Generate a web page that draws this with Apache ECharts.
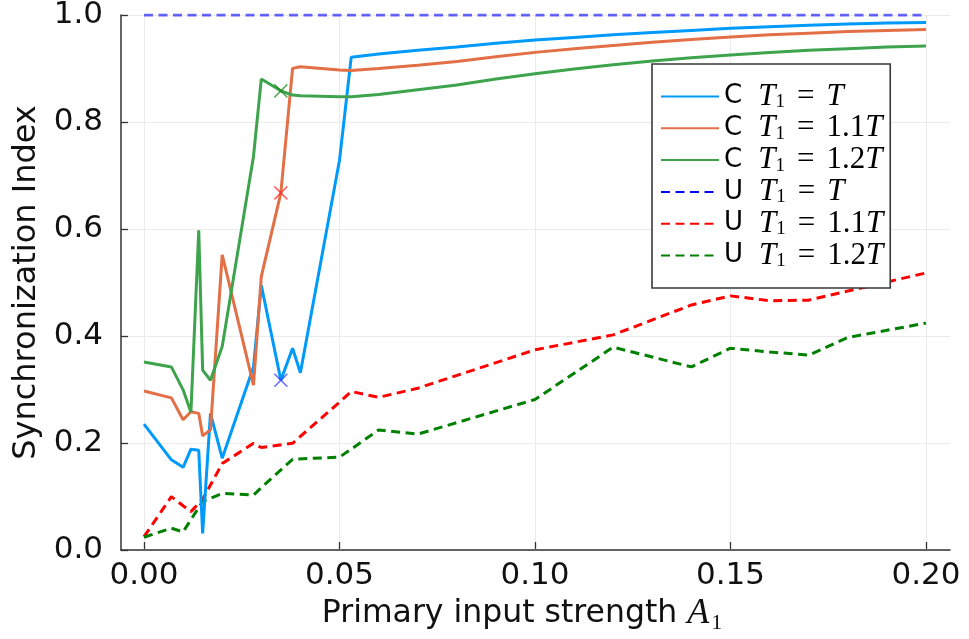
<!DOCTYPE html>
<html>
<head>
<meta charset="utf-8">
<script src="https://cdn.jsdelivr.net/npm/echarts@6/dist/echarts.min.js"></script>
<style>
  html, body { margin: 0; padding: 0; background: #fff; }
  #chart { width: 969px; height: 639px; }
</style>
</head>
<body>
<div id="chart"></div>
<script>
// Primary input strengths A1 of the coupled (C) runs
const xCoupled = [0, 0.007, 0.010, 0.012, 0.014, 0.015, 0.017, 0.020, 0.028, 0.030,
                  0.035, 0.038, 0.040, 0.050, 0.053, 0.06, 0.07, 0.08, 0.09, 0.10,
                  0.11, 0.12, 0.13, 0.14, 0.15, 0.16, 0.17, 0.18, 0.19, 0.20];
// Synchronization index, coupled, T1 = T / 1.1T / 1.2T
const cT10 = [0.234, 0.167, 0.153, 0.187, 0.185, 0.029, 0.254, 0.170, 0.341, 0.494,
              0.316, 0.376, 0.330, 0.728, 0.921, 0.927, 0.934, 0.940, 0.947, 0.953,
              0.958, 0.963, 0.967, 0.971, 0.975, 0.978, 0.981, 0.983, 0.985, 0.986];
const cT11 = [0.296, 0.283, 0.242, 0.257, 0.254, 0.212, 0.223, 0.551, 0.307, 0.510,
              0.667, 0.900, 0.903, 0.897, 0.896, 0.900, 0.906, 0.913, 0.922, 0.930,
              0.937, 0.943, 0.949, 0.954, 0.959, 0.963, 0.966, 0.969, 0.971, 0.973];
const cT12 = [0.350, 0.341, 0.298, 0.256, 0.597, 0.335, 0.316, 0.379, 0.735, 0.880,
              0.858, 0.850, 0.849, 0.847, 0.847, 0.851, 0.860, 0.869, 0.880, 0.890,
              0.899, 0.907, 0.914, 0.920, 0.925, 0.930, 0.934, 0.937, 0.940, 0.942];

// Primary input strengths A1 of the uncoupled (U) runs
const xUncoupled = [0, 0.007, 0.010, 0.012, 0.015, 0.020, 0.028, 0.030, 0.038, 0.050,
                    0.053, 0.060, 0.070, 0.100, 0.120, 0.140, 0.150, 0.160, 0.170, 0.180, 0.200];
const uT10 = [1, 1, 1, 1, 1, 1, 1, 1, 1, 1, 1, 1, 1, 1, 1, 1, 1, 1, 1, 1, 1];
const uT11 = [0.023, 0.098, 0.081, 0.070, 0.093, 0.160, 0.198, 0.190, 0.198, 0.275,
              0.295, 0.284, 0.301, 0.373, 0.401, 0.457, 0.474, 0.465, 0.466, 0.483, 0.517];
const uT12 = [0.022, 0.039, 0.032, 0.055, 0.089, 0.104, 0.101, 0.115, 0.168, 0.172,
              0.187, 0.223, 0.215, 0.280, 0.378, 0.341, 0.376, 0.369, 0.363, 0.396, 0.423];

// Highlighted operating point on the coupled curves
const markedA1 = 0.035;

// Legend entries: model kind and period ratio
const legendKind = ['C', 'C', 'C', 'U', 'U', 'U'];
const legendRatio = ['', '1.1', '1.2', '', '1.1', '1.2'];

// Axis ticks
const xTickStep = 0.05;
const yTickStep = 0.2;

const cColors = ['#009AFA', '#E26F46', '#3DA44D'];
const uColors = ['#0000FF', '#FF0000', '#008000'];
const uOpacity = [0.6, 1, 1];
const markColors = ['rgba(40,40,255,0.85)', 'rgba(255,30,30,0.85)', 'rgba(20,130,20,0.85)'];

const SANS = 'DejaVu Sans';
const SERIF = 'Liberation Serif';

const seriesName = i => legendKind[i] + ' T1 = ' + legendRatio[i] + 'T';
const pairs = (xs, ys) => xs.map((x, i) => [x, ys[i]]);

const coupled = [cT10, cT11, cT12];
const uncoupled = [uT10, uT11, uT12];

const series = [];
coupled.forEach((ys, k) => {
  series.push({
    name: seriesName(k), type: 'line', xAxisIndex: 1, yAxisIndex: 1,
    data: pairs(xCoupled, ys), symbol: 'none', showSymbol: false,
    lineStyle: { color: cColors[k], width: 3 }, itemStyle: { color: cColors[k] },
    z: 3
  });
});
uncoupled.forEach((ys, k) => {
  series.push({
    name: seriesName(k + 3), type: 'line', xAxisIndex: 1, yAxisIndex: 1,
    data: pairs(xUncoupled, ys), symbol: 'none', showSymbol: false,
    lineStyle: { color: uColors[k], width: 3, type: [9, 5.5], opacity: uOpacity[k] },
    itemStyle: { color: uColors[k] },
    z: 2
  });
});
const markIdx = xCoupled.indexOf(markedA1);
coupled.forEach((ys, k) => {
  series.push({
    name: 'mark' + k, type: 'scatter', xAxisIndex: 1, yAxisIndex: 1,
    data: [[markedA1, ys[markIdx]]],
    symbol: 'path://M0,0L10,10M10,0L0,10', symbolSize: 13,
    itemStyle: { color: 'none', borderColor: markColors[k], borderWidth: 1.6 },
    z: 4, silent: true
  });
});

const legendRich = {
  k: { fontFamily: SANS, fontSize: 26, color: '#000', lineHeight: 30, padding: [0, 16, 0, 0] },
  t: { fontFamily: SERIF, fontStyle: 'italic', fontSize: 31, color: '#000', lineHeight: 30 },
  s: { fontFamily: SERIF, fontSize: 19, color: '#000', lineHeight: 16, verticalAlign: 'bottom' },
  e: { fontFamily: SERIF, fontSize: 31, color: '#000', lineHeight: 30, padding: [0, 12, 0, 12] },
  r: { fontFamily: SERIF, fontSize: 31, color: '#000', lineHeight: 30 }
};

const legendData = legendKind.map((_, i) => {
  const item = { name: seriesName(i), itemStyle: { opacity: 0 } };
  if (i >= 3) item.lineStyle = { opacity: 1 };
  return item;
});

const chart = echarts.init(document.getElementById('chart'), null, { renderer: 'canvas' });
chart.setOption({
  animation: false,
  backgroundColor: '#fff',
  grid: [
    { left: 121, right: 19, top: 15, bottom: 89, outerBoundsMode: 'none', containLabel: false },
    { left: 144, right: 43, top: 15, bottom: 90, outerBoundsMode: 'none', containLabel: false }
  ],
  xAxis: [
    {
      gridIndex: 0, type: 'value', min: -0.006, max: 0.206,
      axisLine: { show: true, onZero: false, lineStyle: { color: '#333', width: 1.5 } },
      axisTick: { show: false }, axisLabel: { show: false }, splitLine: { show: false }
    },
    {
      gridIndex: 1, type: 'value', min: 0, max: 0.2, interval: xTickStep,
      axisLine: { show: false, onZero: false },
      axisTick: { show: true, inside: true, length: 7, lineStyle: { color: '#333', width: 1.3 } },
      axisLabel: { fontFamily: SANS, fontSize: 31, color: '#111', margin: 11,
                   formatter: v => v.toFixed(2) },
      splitLine: { show: true, lineStyle: { color: '#ebebeb', width: 1 } },
      name: '{n|Primary input strength }{a|A}{s|1}',
      nameLocation: 'middle', nameGap: 38,
      nameTextStyle: {
        padding: [0, 26, 0, 0],
        rich: {
          n: { fontFamily: SANS, fontSize: 31.5, color: '#111', lineHeight: 40 },
          a: { fontFamily: SERIF, fontStyle: 'italic', fontSize: 36, color: '#111', lineHeight: 40 },
          s: { fontFamily: SERIF, fontSize: 22, color: '#111', lineHeight: 18, verticalAlign: 'bottom',
               padding: [0, 0, 0, 2] }
        }
      }
    }
  ],
  yAxis: [
    {
      gridIndex: 0, type: 'value', min: 0, max: 1, interval: yTickStep,
      axisLine: { show: true, onZero: false, lineStyle: { color: '#333', width: 1.5 } },
      axisTick: { show: true, inside: true, length: 7, lineStyle: { color: '#333', width: 1.3 } },
      axisLabel: { fontFamily: SANS, fontSize: 31, color: '#111', margin: 18,
                   formatter: v => v.toFixed(1) },
      splitLine: { show: true, lineStyle: { color: '#ebebeb', width: 1 } },
      name: 'Synchronization Index', nameLocation: 'middle', nameGap: 78,
      nameTextStyle: { fontFamily: SANS, fontSize: 32, color: '#111' }
    },
    {
      gridIndex: 1, type: 'value', min: 0, max: 1,
      axisLine: { show: false, onZero: false }, axisTick: { show: false },
      axisLabel: { show: false }, splitLine: { show: false }
    }
  ],
  legend: {
    data: legendData,
    orient: 'vertical', left: 652, top: 64,
    backgroundColor: '#fff', borderColor: '#3a3a3a', borderWidth: 1.6, borderRadius: 0,
    padding: [17, 7, 17, 8],
    itemWidth: 58, itemHeight: 14, itemGap: 0.8,
    selectedMode: false,
    itemStyle: { opacity: 0 },
    textStyle: { rich: legendRich },
    formatter: name => {
      const i = legendKind.findIndex((_, j) => seriesName(j) === name);
      const ratio = legendRatio[i] ? '{r|' + legendRatio[i] + '}' : '';
      return '{k|' + legendKind[i] + '}{t|T}{s|1}{e|=}' + ratio + '{t|T}';
    }
  },
  series: series
});
</script>
</body>
</html>
